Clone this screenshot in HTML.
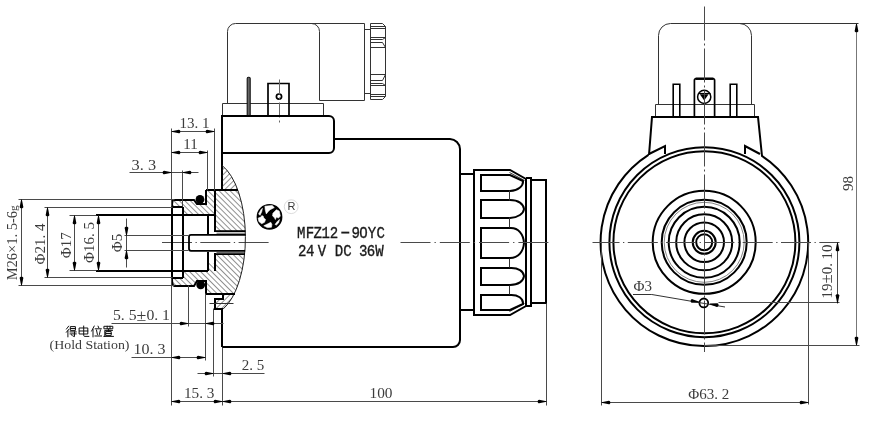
<!DOCTYPE html>
<html><head><meta charset="utf-8"><style>
html,body{margin:0;padding:0;background:#fff;width:869px;height:428px;overflow:hidden}
svg{display:block;filter:blur(0.35px)}
</style></head><body>
<svg width="869" height="428" viewBox="0 0 869 428">
<rect width="869" height="428" fill="#fff"/>
<path d="M227.5 103.5 V31.5 A8,8 0 0 1 235.5,23.5 H364.5 V100.5 H319.5" stroke="#333" stroke-width="1" fill="none" />
<path d="M311.5 23.5 A8,8 0 0 1 319.5,31.5 V100.5" stroke="#333" stroke-width="1" fill="none" />
<rect x="364.5" y="29.5" width="6" height="64" rx="0" stroke="#333" stroke-width="1" fill="none"/>
<path d="M370.5 23.5 H382.5 L385.5 26.5 V96.5 L382.5 99.5 H370.5 Z" stroke="#333" stroke-width="1" fill="none" />
<path d="M370.5 26.5 L385.5 26.5" stroke="#333" stroke-width="1" fill="none" />
<path d="M370.5 28.5 L385.5 28.5" stroke="#333" stroke-width="1" fill="none" />
<path d="M370.5 37.5 L385.5 37.5" stroke="#333" stroke-width="1" fill="none" />
<path d="M370.5 47.5 L385.5 47.5" stroke="#333" stroke-width="1" fill="none" />
<path d="M370.5 74.5 L385.5 74.5" stroke="#333" stroke-width="1" fill="none" />
<path d="M370.5 85.5 L385.5 85.5" stroke="#333" stroke-width="1" fill="none" />
<path d="M370.5 94.5 L385.5 94.5" stroke="#333" stroke-width="1" fill="none" />
<path d="M370.5 96.5 L385.5 96.5" stroke="#333" stroke-width="1" fill="none" />
<path d="M370.5 39.5 H382.5 L385.5 37.5 M370.5 42.5 H382.5 L385.5 47.5" stroke="#333" stroke-width="1" fill="none" />
<path d="M370.5 80.5 H382.5 L385.5 74.5 M370.5 83.5 H382.5 L385.5 85.5" stroke="#333" stroke-width="1" fill="none" />
<path d="M222.5 116.5 V103.5 H323.5 V116.5" stroke="#333" stroke-width="1" fill="none" />
<rect x="247.2" y="77.2" width="3" height="39" rx="1.2" fill="#666" stroke="#111" stroke-width="1.1"/>
<path d="M268 116 V83.5 H289 V116" stroke="#000" stroke-width="1.7" fill="none" />
<circle cx="279" cy="96.6" r="2.6" stroke="#000" stroke-width="1.7" fill="none"/>
<path d="M279.5 79.5 L279.5 125.5" stroke="#666" stroke-width="1" fill="none" stroke-dasharray="15,3,2,3"/>
<path d="M222 116 H329 A5,5 0 0 1 334,121 V148 A5,5 0 0 1 329,153 H222" stroke="#000" stroke-width="2" fill="none" />
<path d="M334 139 H450 A10.5,10.5 0 0 1 460,149 V340 A7,7 0 0 1 453,347 H222" stroke="#000" stroke-width="2" fill="none" />
<path d="M222 115 V190" stroke="#000" stroke-width="2" fill="none" />
<path d="M222 310 V347" stroke="#000" stroke-width="2" fill="none" />
<path d="M460 174 H474 M460 310 H474" stroke="#000" stroke-width="2" fill="none" />
<path d="M474 170 H510 L526 179 V306 L510 315 H474 Z" stroke="#000" stroke-width="2" fill="none" />
<path d="M509.5 172.5 L524.5 180.5 M509.5 311.5 L524.5 303.5" stroke="#333" stroke-width="1" fill="none" />
<path d="M526 178 H531 V306 H526" stroke="#000" stroke-width="2" fill="none" />
<path d="M531 180 H546 V303 H531" stroke="#000" stroke-width="2" fill="none" />
<path d="M481 200 H510 C518.5 200 523.5 203.94 524 209 C523.5 213.56 518.5 217.5 510 218 H481 Z" stroke="#000" stroke-width="2" fill="none" />
<path d="M481 228 H510 C518.5 227.5 523.5 234.36 524 243 C523.5 251.14 518.5 258 510 258 H481 Z" stroke="#000" stroke-width="2" fill="none" />
<path d="M481 268 H510 C518.5 267.5 523.5 271.44 524 276 C523.5 281.06 518.5 285 510 285 H481 Z" stroke="#000" stroke-width="2" fill="none" />
<path d="M481 175 H510 L523 181 C523.5 186 518 190.5 510 191 H481 Z" stroke="#000" stroke-width="2" fill="none" />
<path d="M481 310 H510 L523 304 C523.5 298.5 518 294.5 510 295 H481 Z" stroke="#000" stroke-width="2" fill="none" />
<path d="M509.5 190.5 L509.5 200.5" stroke="#333" stroke-width="1" fill="none" />
<path d="M509.5 217.5 L509.5 227.5" stroke="#333" stroke-width="1" fill="none" />
<path d="M509.5 258.5 L509.5 267.5" stroke="#333" stroke-width="1" fill="none" />
<path d="M509.5 285.5 L509.5 294.5" stroke="#333" stroke-width="1" fill="none" />
<path d="M162,242.5 H271" stroke="#4a4a4a" stroke-width="1" fill="none" stroke-dasharray="30,3.5,1.3,3.5"/>
<path d="M400.5,242.5 H550" stroke="#4a4a4a" stroke-width="1" fill="none" stroke-dasharray="30,4,1.3,4"/>
<circle cx="269.5" cy="216.9" r="12.0" stroke="#000" stroke-width="1.8" fill="#000"/>
<path d="M264.9,206.2 L272.2,205.5 L274.3,207.6 L270.1,209.7 L268,211.8 L266.3,213.9 L265.2,209.7 Z" fill="#fff" stroke="#fff" stroke-width="0.6" stroke-linejoin="round"/>
<path d="M272.9,213.2 L276.4,209.7 L279.2,211.1 L280.3,216 L278.5,218.1 L276.4,217.1 L275.4,219.5 L274.3,217.4 L272.6,216 Z" fill="#fff" stroke="#fff" stroke-width="0.6" stroke-linejoin="round"/>
<path d="M258.2,218.1 L261,217.1 L261.7,215.7 L263.1,216 L263.8,218.1 L265.6,219.5 L264.5,222.3 L261.7,223.7 L258.9,221.6 Z" fill="#fff" stroke="#fff" stroke-width="0.6" stroke-linejoin="round"/>
<path d="M263.8,225.8 L268,223.7 L270.8,222.3 L271.9,224.4 L271.5,227.2 L267.3,227.6 Z" fill="#fff" stroke="#fff" stroke-width="0.6" stroke-linejoin="round"/>
<path d="M258.6,213.9 L261,209.7 L262.4,208.3 L261.7,211.8 L260,215.3 Z" fill="#fff" stroke="#fff" stroke-width="0.6" stroke-linejoin="round"/>
<path d="M275,224.4 L277.8,220.9 L279.6,219.5 L278.5,223 L276.4,225.1 Z" fill="#fff" stroke="#fff" stroke-width="0.6" stroke-linejoin="round"/>
<circle cx="291.2" cy="206.7" r="6.9" stroke="#ddd" stroke-width="1" fill="none"/>
<text x="291.5" y="210.3" font-family="Liberation Sans" font-size="11" text-anchor="middle" fill="#3c3c3c">R</text>
<text x="0" y="0" font-family="Liberation Mono" font-size="16" text-anchor="middle" fill="#1a1a1a" stroke="#1a1a1a" stroke-width="0.35" transform="translate(301.3,238) scale(0.88,1)">M</text>
<text x="0" y="0" font-family="Liberation Mono" font-size="16" text-anchor="middle" fill="#1a1a1a" stroke="#1a1a1a" stroke-width="0.35" transform="translate(310,238) scale(0.88,1)">F</text>
<text x="0" y="0" font-family="Liberation Mono" font-size="16" text-anchor="middle" fill="#1a1a1a" stroke="#1a1a1a" stroke-width="0.35" transform="translate(317.8,238) scale(0.88,1)">Z</text>
<text x="0" y="0" font-family="Liberation Mono" font-size="16" text-anchor="middle" fill="#1a1a1a" stroke="#1a1a1a" stroke-width="0.35" transform="translate(325.8,238) scale(0.88,1)">1</text>
<text x="0" y="0" font-family="Liberation Mono" font-size="16" text-anchor="middle" fill="#1a1a1a" stroke="#1a1a1a" stroke-width="0.35" transform="translate(334,238) scale(0.88,1)">2</text>
<text x="0" y="0" font-family="Liberation Mono" font-size="16" text-anchor="middle" fill="#1a1a1a" stroke="#1a1a1a" stroke-width="0.35" transform="translate(355.75,238) scale(0.88,1)">9</text>
<text x="0" y="0" font-family="Liberation Mono" font-size="16" text-anchor="middle" fill="#1a1a1a" stroke="#1a1a1a" stroke-width="0.35" transform="translate(363.5,238) scale(0.88,1)">O</text>
<text x="0" y="0" font-family="Liberation Mono" font-size="16" text-anchor="middle" fill="#1a1a1a" stroke="#1a1a1a" stroke-width="0.35" transform="translate(371.95,238) scale(0.88,1)">Y</text>
<text x="0" y="0" font-family="Liberation Mono" font-size="16" text-anchor="middle" fill="#1a1a1a" stroke="#1a1a1a" stroke-width="0.35" transform="translate(380.6,238) scale(0.88,1)">C</text>
<path d="M341.3,232.6 H349.3" stroke="#1a1a1a" stroke-width="1.9"/>
<text x="0" y="0" font-family="Liberation Mono" font-size="16" text-anchor="middle" fill="#1a1a1a" stroke="#1a1a1a" stroke-width="0.35" transform="translate(302.2,256.2) scale(0.88,1)">2</text>
<text x="0" y="0" font-family="Liberation Mono" font-size="16" text-anchor="middle" fill="#1a1a1a" stroke="#1a1a1a" stroke-width="0.35" transform="translate(310.2,256.2) scale(0.88,1)">4</text>
<text x="0" y="0" font-family="Liberation Mono" font-size="16" text-anchor="middle" fill="#1a1a1a" stroke="#1a1a1a" stroke-width="0.35" transform="translate(322,256.2) scale(0.88,1)">V</text>
<text x="0" y="0" font-family="Liberation Mono" font-size="16" text-anchor="middle" fill="#1a1a1a" stroke="#1a1a1a" stroke-width="0.35" transform="translate(339,256.2) scale(0.88,1)">D</text>
<text x="0" y="0" font-family="Liberation Mono" font-size="16" text-anchor="middle" fill="#1a1a1a" stroke="#1a1a1a" stroke-width="0.35" transform="translate(347.55,256.2) scale(0.88,1)">C</text>
<text x="0" y="0" font-family="Liberation Mono" font-size="16" text-anchor="middle" fill="#1a1a1a" stroke="#1a1a1a" stroke-width="0.35" transform="translate(363.3,256.2) scale(0.88,1)">3</text>
<text x="0" y="0" font-family="Liberation Mono" font-size="16" text-anchor="middle" fill="#1a1a1a" stroke="#1a1a1a" stroke-width="0.35" transform="translate(370.85,256.2) scale(0.88,1)">6</text>
<text x="0" y="0" font-family="Liberation Mono" font-size="16" text-anchor="middle" fill="#1a1a1a" stroke="#1a1a1a" stroke-width="0.35" transform="translate(379.45,256.2) scale(0.88,1)">W</text>
<defs><pattern id="hb" patternUnits="userSpaceOnUse" width="3.9" height="3.9" patternTransform="rotate(45)"><line x1="0" y1="0" x2="0" y2="3.9" stroke="#222" stroke-width="1"/></pattern><pattern id="hf" patternUnits="userSpaceOnUse" width="3.9" height="3.9" patternTransform="rotate(-45)"><line x1="0" y1="0" x2="0" y2="3.9" stroke="#222" stroke-width="1"/></pattern></defs>
<path d="M222,165.42 V190 H238.11 A35,76.6 0 0 0 222,165.42 Z" fill="url(#hb)"/>
<path d="M214.5,190 H238.11 A35,76.6 0 0 1 245.52,231 H214.5 Z" fill="url(#hf)"/>
<path d="M174.3,199.5 H193.6 L196.5,204 H205.5 V190 H214.5 V215 H182.5 V206.5 H172 C172,202 172.5,199.5 174.3,199.5 Z" fill="url(#hf)"/>
<path d="M214.5,254 H244.83 A35,76.6 0 0 1 234.53,293.5 H205.5 V281 H196.5 L193.6,285.5 H174.3 C172.5,285.5 172,283 172,278.5 H182.5 V271 H207.5 V263 L214.5,263 Z" fill="url(#hf)"/>
<path d="M222.5,294.5 V298.5 H214.5 V308.5 H223 L223.79,308.5 A35,76.6 0 0 0 234.03,294.5 Z" fill="url(#hb)"/>
<path d="M222,165.42 A35,76.6 0 0 1 223,309.17" stroke="#222" stroke-width="1" fill="none"/>
<path d="M206 190 H238" stroke="#000" stroke-width="2" fill="none" />
<path d="M174 200 H194 L197 204 H206 V190" stroke="#000" stroke-width="2" fill="none" />
<path d="M172 207 C172 202 172.5 199.5 174 200" stroke="#000" stroke-width="2" fill="none" />
<path d="M172 207 V278 M183 207 V278 M172 207 H183 M172 278 H183" stroke="#000" stroke-width="2" fill="none" />
<path d="M96 215 H215 M96 271 H208" stroke="#000" stroke-width="2" fill="none" />
<path d="M215 190 V232" stroke="#000" stroke-width="2" fill="none" />
<path d="M214.2,231.1 H245.53" stroke="#000" stroke-width="1.8" fill="none"/>
<path d="M216.5,233.2 H245.59" stroke="#333" stroke-width="0.8" fill="none"/>
<path d="M208 215 V234 M208 252 V271" stroke="#000" stroke-width="2" fill="none" />
<path d="M215 253 V263" stroke="#000" stroke-width="2" fill="none" />
<path d="M214.2,254.1 H244.82" stroke="#000" stroke-width="1.8" fill="none"/>
<path d="M216.5,252.4 H244.98" stroke="#333" stroke-width="0.8" fill="none"/>
<path d="M245.63,234.8 H191 Q189,234.8 189,236.8 V248.8 Q189,250.8 191,250.8 H245.12" stroke="#000" stroke-width="1.8" fill="none"/>
<path d="M174 286 H194 L197 281 H206 V294" stroke="#000" stroke-width="2" fill="none" />
<path d="M172 278 C172 283 172.5 285.5 174 286" stroke="#000" stroke-width="2" fill="none" />
<path d="M206 294 H235" stroke="#000" stroke-width="2" fill="none" />
<path d="M215 263 V271" stroke="#000" stroke-width="2" fill="none" />
<circle cx="200" cy="199.4" r="4.4" stroke="#000" stroke-width="0" fill="#000"/>
<circle cx="200.7" cy="284.8" r="4.4" stroke="#000" stroke-width="0" fill="#000"/>
<path d="M223 295 V299 H215 V309 H222 V311" stroke="#000" stroke-width="2" fill="none" />
<path d="M209.5 303.5 L233.5 303.5" stroke="#333" stroke-width="1" fill="none" />
<path d="M171.5 128.5 L171.5 206.5" stroke="#4a4a4a" stroke-width="1" fill="none" />
<path d="M171.5 278.5 L171.5 405.5" stroke="#4a4a4a" stroke-width="1" fill="none" />
<path d="M182.5 170.5 L182.5 206.5" stroke="#4a4a4a" stroke-width="1" fill="none" />
<path d="M207.5 150.5 L207.5 190.5" stroke="#4a4a4a" stroke-width="1" fill="none" />
<path d="M214.5 128.5 L214.5 190.5" stroke="#4a4a4a" stroke-width="1" fill="none" />
<path d="M188.5 285.5 L188.5 326.5" stroke="#4a4a4a" stroke-width="1" fill="none" />
<path d="M205.5 293.5 L205.5 360.5" stroke="#4a4a4a" stroke-width="1" fill="none" />
<path d="M213.5 308.5 L213.5 376.5" stroke="#4a4a4a" stroke-width="1" fill="none" />
<path d="M222.5 347.5 L222.5 405.5" stroke="#4a4a4a" stroke-width="1" fill="none" />
<path d="M546.5 303.5 L546.5 405.5" stroke="#4a4a4a" stroke-width="1" fill="none" />
<path d="M18.5 199.5 L174.5 199.5" stroke="#4a4a4a" stroke-width="1" fill="none" />
<path d="M44.5 207.5 L172.5 207.5" stroke="#4a4a4a" stroke-width="1" fill="none" />
<path d="M69.5 215.5 L96.5 215.5" stroke="#4a4a4a" stroke-width="1" fill="none" />
<path d="M69.5 270.5 L96.5 270.5" stroke="#4a4a4a" stroke-width="1" fill="none" />
<path d="M44.5 277.5 L172.5 277.5" stroke="#4a4a4a" stroke-width="1" fill="none" />
<path d="M18.5 285.5 L174.5 285.5" stroke="#4a4a4a" stroke-width="1" fill="none" />
<path d="M124.5 235.5 L188.5 235.5" stroke="#4a4a4a" stroke-width="1" fill="none" />
<path d="M124.5 250.5 L188.5 250.5" stroke="#4a4a4a" stroke-width="1" fill="none" />
<path d="M21.5 199.5 L21.5 285.5" stroke="#4a4a4a" stroke-width="1" fill="none" />
<path d="M0,-0.35 L-7.4,-1.85 C-9.3,-1.85 -9.3,1.85 -7.4,1.85 L0,0.35 Z" fill="#000" transform="translate(21.5,199.5) rotate(270)"/>
<path d="M0,-0.35 L-7.4,-1.85 C-9.3,-1.85 -9.3,1.85 -7.4,1.85 L0,0.35 Z" fill="#000" transform="translate(21.5,285.5) rotate(90)"/>
<path d="M47.5 207.5 L47.5 277.5" stroke="#4a4a4a" stroke-width="1" fill="none" />
<path d="M0,-0.35 L-7.4,-1.85 C-9.3,-1.85 -9.3,1.85 -7.4,1.85 L0,0.35 Z" fill="#000" transform="translate(47.5,207.5) rotate(270)"/>
<path d="M0,-0.35 L-7.4,-1.85 C-9.3,-1.85 -9.3,1.85 -7.4,1.85 L0,0.35 Z" fill="#000" transform="translate(47.5,277.5) rotate(90)"/>
<path d="M74.5 215.5 L74.5 270.5" stroke="#4a4a4a" stroke-width="1" fill="none" />
<path d="M0,-0.35 L-7.4,-1.85 C-9.3,-1.85 -9.3,1.85 -7.4,1.85 L0,0.35 Z" fill="#000" transform="translate(74.5,215.5) rotate(270)"/>
<path d="M0,-0.35 L-7.4,-1.85 C-9.3,-1.85 -9.3,1.85 -7.4,1.85 L0,0.35 Z" fill="#000" transform="translate(74.5,270.5) rotate(90)"/>
<path d="M98.5 215.5 L98.5 270.5" stroke="#4a4a4a" stroke-width="1" fill="none" />
<path d="M0,-0.35 L-7.4,-1.85 C-9.3,-1.85 -9.3,1.85 -7.4,1.85 L0,0.35 Z" fill="#000" transform="translate(98.5,215.5) rotate(270)"/>
<path d="M0,-0.35 L-7.4,-1.85 C-9.3,-1.85 -9.3,1.85 -7.4,1.85 L0,0.35 Z" fill="#000" transform="translate(98.5,270.5) rotate(90)"/>
<path d="M126.5 218.5 L126.5 267.5" stroke="#4a4a4a" stroke-width="1" fill="none" />
<path d="M0,-0.35 L-7.4,-1.85 C-9.3,-1.85 -9.3,1.85 -7.4,1.85 L0,0.35 Z" fill="#000" transform="translate(126.5,235.5) rotate(90)"/>
<path d="M0,-0.35 L-7.4,-1.85 C-9.3,-1.85 -9.3,1.85 -7.4,1.85 L0,0.35 Z" fill="#000" transform="translate(126.5,250.5) rotate(270)"/>
<text x="0" y="0" font-family="Liberation Serif" font-size="14" text-anchor="middle" fill="#3c3c3c" textLength="75" lengthAdjust="spacingAndGlyphs" transform="translate(17.3,242.8) rotate(-90)">M26×1. 5-6<tspan font-size="11">g</tspan></text>
<text x="0" y="0" font-family="Liberation Serif" font-size="15" text-anchor="middle" fill="#3c3c3c" transform="translate(44.5,244) rotate(-90)">Φ21. 4</text>
<text x="0" y="0" font-family="Liberation Serif" font-size="15" text-anchor="middle" fill="#3c3c3c" transform="translate(71,245.2) rotate(-90)">Φ17</text>
<text x="0" y="0" font-family="Liberation Serif" font-size="15" text-anchor="middle" fill="#3c3c3c" transform="translate(93.5,242.5) rotate(-90)">Φ16. 5</text>
<text x="0" y="0" font-family="Liberation Serif" font-size="15" text-anchor="middle" fill="#3c3c3c" transform="translate(122,243) rotate(-90)">Φ5</text>
<path d="M171.5 131.5 L214.5 131.5" stroke="#4a4a4a" stroke-width="1" fill="none" />
<path d="M0,-0.35 L-7.4,-1.85 C-9.3,-1.85 -9.3,1.85 -7.4,1.85 L0,0.35 Z" fill="#000" transform="translate(171.5,131.5) rotate(180)"/>
<path d="M0,-0.35 L-7.4,-1.85 C-9.3,-1.85 -9.3,1.85 -7.4,1.85 L0,0.35 Z" fill="#000" transform="translate(214.5,131.5) rotate(0)"/>
<text x="194.5" y="128" font-family="Liberation Serif" font-size="15" text-anchor="middle" fill="#3c3c3c">13. 1</text>
<path d="M171.5 152.5 L207.5 152.5" stroke="#4a4a4a" stroke-width="1" fill="none" />
<path d="M0,-0.35 L-7.4,-1.85 C-9.3,-1.85 -9.3,1.85 -7.4,1.85 L0,0.35 Z" fill="#000" transform="translate(171.5,152.5) rotate(180)"/>
<path d="M0,-0.35 L-7.4,-1.85 C-9.3,-1.85 -9.3,1.85 -7.4,1.85 L0,0.35 Z" fill="#000" transform="translate(207.5,152.5) rotate(0)"/>
<text x="190.5" y="149" font-family="Liberation Serif" font-size="15" text-anchor="middle" fill="#3c3c3c">11</text>
<path d="M129.5 172.5 L198.5 172.5" stroke="#4a4a4a" stroke-width="1" fill="none" />
<path d="M0,-0.35 L-7.4,-1.85 C-9.3,-1.85 -9.3,1.85 -7.4,1.85 L0,0.35 Z" fill="#000" transform="translate(171.5,172.5) rotate(0)"/>
<path d="M0,-0.35 L-7.4,-1.85 C-9.3,-1.85 -9.3,1.85 -7.4,1.85 L0,0.35 Z" fill="#000" transform="translate(182.5,172.5) rotate(180)"/>
<text x="143.8" y="169.5" font-family="Liberation Serif" font-size="15" text-anchor="middle" fill="#3c3c3c" textLength="24.5" lengthAdjust="spacingAndGlyphs">3. 3</text>
<path d="M111.5 323.5 L223.5 323.5" stroke="#4a4a4a" stroke-width="1" fill="none" />
<path d="M0,-0.35 L-7.4,-1.85 C-9.3,-1.85 -9.3,1.85 -7.4,1.85 L0,0.35 Z" fill="#000" transform="translate(188.5,323.5) rotate(0)"/>
<path d="M0,-0.35 L-7.4,-1.85 C-9.3,-1.85 -9.3,1.85 -7.4,1.85 L0,0.35 Z" fill="#000" transform="translate(205.5,323.5) rotate(180)"/>
<text x="141.5" y="320" font-family="Liberation Serif" font-size="15" text-anchor="middle" fill="#3c3c3c" textLength="57" lengthAdjust="spacingAndGlyphs">5. 5<tspan font-size="17" dy="0.8">±</tspan><tspan dy="-0.8">0. 1</tspan></text>
<path d="M131.5 357.5 L205.5 357.5" stroke="#4a4a4a" stroke-width="1" fill="none" />
<path d="M0,-0.35 L-7.4,-1.85 C-9.3,-1.85 -9.3,1.85 -7.4,1.85 L0,0.35 Z" fill="#000" transform="translate(171.5,357.5) rotate(180)"/>
<path d="M0,-0.35 L-7.4,-1.85 C-9.3,-1.85 -9.3,1.85 -7.4,1.85 L0,0.35 Z" fill="#000" transform="translate(205.5,357.5) rotate(0)"/>
<text x="149.4" y="354" font-family="Liberation Serif" font-size="15" text-anchor="middle" fill="#3c3c3c" textLength="32" lengthAdjust="spacingAndGlyphs">10. 3</text>
<path d="M197.5 373.5 L264.5 373.5" stroke="#4a4a4a" stroke-width="1" fill="none" />
<path d="M0,-0.35 L-7.4,-1.85 C-9.3,-1.85 -9.3,1.85 -7.4,1.85 L0,0.35 Z" fill="#000" transform="translate(213.5,373.5) rotate(0)"/>
<path d="M0,-0.35 L-7.4,-1.85 C-9.3,-1.85 -9.3,1.85 -7.4,1.85 L0,0.35 Z" fill="#000" transform="translate(222.5,373.5) rotate(180)"/>
<text x="253" y="369.6" font-family="Liberation Serif" font-size="15" text-anchor="middle" fill="#3c3c3c">2. 5</text>
<path d="M171.5 401.5 L546.5 401.5" stroke="#4a4a4a" stroke-width="1" fill="none" />
<path d="M0,-0.35 L-7.4,-1.85 C-9.3,-1.85 -9.3,1.85 -7.4,1.85 L0,0.35 Z" fill="#000" transform="translate(171.5,401.5) rotate(180)"/>
<path d="M0,-0.35 L-7.4,-1.85 C-9.3,-1.85 -9.3,1.85 -7.4,1.85 L0,0.35 Z" fill="#000" transform="translate(222.5,401.5) rotate(0)"/>
<path d="M0,-0.35 L-7.4,-1.85 C-9.3,-1.85 -9.3,1.85 -7.4,1.85 L0,0.35 Z" fill="#000" transform="translate(222.5,401.5) rotate(180)"/>
<path d="M0,-0.35 L-7.4,-1.85 C-9.3,-1.85 -9.3,1.85 -7.4,1.85 L0,0.35 Z" fill="#000" transform="translate(546.5,401.5) rotate(0)"/>
<text x="199.2" y="397.5" font-family="Liberation Serif" font-size="15" text-anchor="middle" fill="#3c3c3c" textLength="30.5" lengthAdjust="spacingAndGlyphs">15. 3</text>
<text x="381" y="398" font-family="Liberation Serif" font-size="15" text-anchor="middle" fill="#3c3c3c" textLength="23" lengthAdjust="spacingAndGlyphs">100</text>
<text x="89.5" y="349.3" font-family="Liberation Serif" font-size="13" text-anchor="middle" fill="#3c3c3c" textLength="80" lengthAdjust="spacingAndGlyphs">(Hold Station)</text>
<g stroke="#111" stroke-width="1.0" fill="none" stroke-linecap="square"><g transform="translate(66.2,325.8)"><path d="M2.4,0.4 L0.3,3.2 M2.8,3.4 L0.2,6.4 M1.7,5 V11 M4.6,0.8 H9.2 V4.6 H4.6 Z M4.6,2.7 H9.2 M3.9,6.1 H10 M3.9,8.1 H10 M8.3,6.1 V10.8 L7.2,10.4 M5.4,8.9 L6,9.9"/></g><g transform="translate(78.8,325.8)"><path d="M0.8,2.2 H9 V8.2 H0.8 Z M0.8,5.2 H9 M4.9,0.3 V9.6 Q4.9,10.6 6,10.6 H10"/></g><g transform="translate(91.3,325.8)"><path d="M2.9,0.3 L0.3,5.2 M1.7,3.6 V11 M6.8,0.4 L7.4,1.8 M3.9,3 H10 M5.2,4.3 L6.1,8.6 M9.1,4.3 L8.1,8.6 M3.7,10.2 H10.2"/></g><g transform="translate(103.6,325.8)"><path d="M0.8,0.5 H9.2 V3 H0.8 Z M3.6,0.5 V3 M6.4,0.5 V3 M1.5,4.6 H8.8 M5,3.4 V5.6 M2.6,5.8 H7.6 V9.6 H2.6 Z M2.6,7.7 H7.6 M1.2,5.2 V10.6 M0.3,10.6 H9.8"/></g></g>
<path d="M658.5 104.5 V35.5 A12,12 0 0 1 670.5,23.5 H858.5" stroke="#333" stroke-width="1" fill="none" />
<path d="M751.5 104.5 V35.5 A12,12 0 0 0 739.5,23.5" stroke="#333" stroke-width="1" fill="none" />
<path d="M655.5 117.5 V104.5 H754.5 V117.5" stroke="#333" stroke-width="1" fill="none" />
<path d="M673.2 117 V84.3 H679.8 V117 M730.2 117 V84.3 H736.8 V117" stroke="#000" stroke-width="1.6" fill="none" />
<path d="M694.4 117 V80.5 Q694.4 78.5 696.4 78.5 H712.6 Q714.6 78.5 714.6 80.5 V117" stroke="#000" stroke-width="1.7" fill="none" />
<path d="M695.5,78.8 H713.5" stroke="#000" stroke-width="2.3" fill="none"/>
<circle cx="704.2" cy="96.9" r="6.6" stroke="#000" stroke-width="1.5" fill="none"/>
<path d="M699.8,94.3 H708.6 L704.2,100.6 Z" fill="#000"/>
<path d="M698.5 93.5 L710.5 93.5" stroke="#000" stroke-width="1.2" fill="none" />
<path d="M649 155 L652 117 H758 L762 156" stroke="#000" stroke-width="2" fill="none" />
<path d="M648.5,154.8 A103.8,103.8 0 1 0 761.5,155.6" stroke="#000" stroke-width="2" fill="none"/>
<path d="M649 154 L665 146 V154" stroke="#000" stroke-width="2" fill="none" />
<path d="M760 154 L745 146 V154" stroke="#000" stroke-width="2" fill="none" />
<circle cx="704.4" cy="242.2" r="95" stroke="#000" stroke-width="2" fill="none"/>
<circle cx="704.4" cy="242.2" r="91" stroke="#000" stroke-width="2" fill="none"/>
<circle cx="704.2" cy="242.3" r="51.5" stroke="#000" stroke-width="2" fill="none"/>
<circle cx="704.2" cy="242.3" r="42.5" stroke="#000" stroke-width="2" fill="none"/>
<circle cx="704.2" cy="242.3" r="35.5" stroke="#000" stroke-width="2" fill="none"/>
<circle cx="704.2" cy="242.3" r="28" stroke="#000" stroke-width="2" fill="none"/>
<circle cx="704.2" cy="242.3" r="19.8" stroke="#000" stroke-width="2" fill="none"/>
<circle cx="704.2" cy="242.3" r="11.5" stroke="#000" stroke-width="2" fill="none"/>
<circle cx="704.2" cy="242.3" r="8" stroke="#000" stroke-width="2" fill="none"/>
<circle cx="704.2" cy="242.3" r="40" stroke="#666" stroke-width="0.8" fill="none"/>
<path d="M704.5,6.5 V352" stroke="#4a4a4a" stroke-width="1" fill="none" stroke-dasharray="34,3,2,3"/>
<path d="M592.5,242.5 H839.5" stroke="#4a4a4a" stroke-width="1" fill="none" stroke-dasharray="30,3.5,1.3,3.5" stroke-dashoffset="3"/>
<circle cx="703.8" cy="302.9" r="4.4" stroke="#000" stroke-width="1.8" fill="none"/>
<path d="M633,294.5 H651.8 L725,307" stroke="#333" stroke-width="1" fill="none"/>
<path d="M0,-0.35 L-7.4,-1.85 C-9.3,-1.85 -9.3,1.85 -7.4,1.85 L0,0.35 Z" fill="#000" transform="translate(699.4,302.2) rotate(9.6)"/>
<path d="M0,-0.35 L-7.4,-1.85 C-9.3,-1.85 -9.3,1.85 -7.4,1.85 L0,0.35 Z" fill="#000" transform="translate(709.8,303.9) rotate(189.6)"/>
<text x="633.5" y="290.7" font-family="Liberation Serif" font-size="15" text-anchor="start" fill="#3c3c3c">Φ3</text>
<path d="M718.5 302.5 L839.5 302.5" stroke="#4a4a4a" stroke-width="1" fill="none" />
<path d="M837.5 242.5 L837.5 303.5" stroke="#4a4a4a" stroke-width="1" fill="none" />
<path d="M0,-0.35 L-7.4,-1.85 C-9.3,-1.85 -9.3,1.85 -7.4,1.85 L0,0.35 Z" fill="#000" transform="translate(837.5,242.5) rotate(270)"/>
<path d="M0,-0.35 L-7.4,-1.85 C-9.3,-1.85 -9.3,1.85 -7.4,1.85 L0,0.35 Z" fill="#000" transform="translate(837.5,303) rotate(90)"/>
<text x="0" y="0" font-family="Liberation Serif" font-size="14" text-anchor="middle" fill="#3c3c3c" textLength="54" lengthAdjust="spacingAndGlyphs" transform="translate(832,271.5) rotate(-90)">19<tspan font-size="16">±</tspan>0. 10</text>
<path d="M704.5 345.5 L859.5 345.5" stroke="#4a4a4a" stroke-width="1" fill="none" />
<path d="M856.5 23.5 L856.5 345.5" stroke="#777" stroke-width="1" fill="none" />
<path d="M0,-0.35 L-7.4,-1.85 C-9.3,-1.85 -9.3,1.85 -7.4,1.85 L0,0.35 Z" fill="#000" transform="translate(856.5,23.5) rotate(270)"/>
<path d="M0,-0.35 L-7.4,-1.85 C-9.3,-1.85 -9.3,1.85 -7.4,1.85 L0,0.35 Z" fill="#000" transform="translate(856.5,345.5) rotate(90)"/>
<text x="0" y="0" font-family="Liberation Serif" font-size="15" text-anchor="middle" fill="#3c3c3c" transform="translate(852.5,183.5) rotate(-90)">98</text>
<path d="M601.5 242.5 L601.5 405.5" stroke="#4a4a4a" stroke-width="1" fill="none" />
<path d="M808.5 242.5 L808.5 404.5" stroke="#4a4a4a" stroke-width="1" fill="none" />
<path d="M601.5 402.5 L808.5 402.5" stroke="#4a4a4a" stroke-width="1" fill="none" />
<path d="M0,-0.35 L-7.4,-1.85 C-9.3,-1.85 -9.3,1.85 -7.4,1.85 L0,0.35 Z" fill="#000" transform="translate(601.5,402.5) rotate(180)"/>
<path d="M0,-0.35 L-7.4,-1.85 C-9.3,-1.85 -9.3,1.85 -7.4,1.85 L0,0.35 Z" fill="#000" transform="translate(808.5,402.5) rotate(0)"/>
<text x="708.8" y="399" font-family="Liberation Serif" font-size="15" text-anchor="middle" fill="#3c3c3c">Φ63. 2</text>
</svg></body></html>
